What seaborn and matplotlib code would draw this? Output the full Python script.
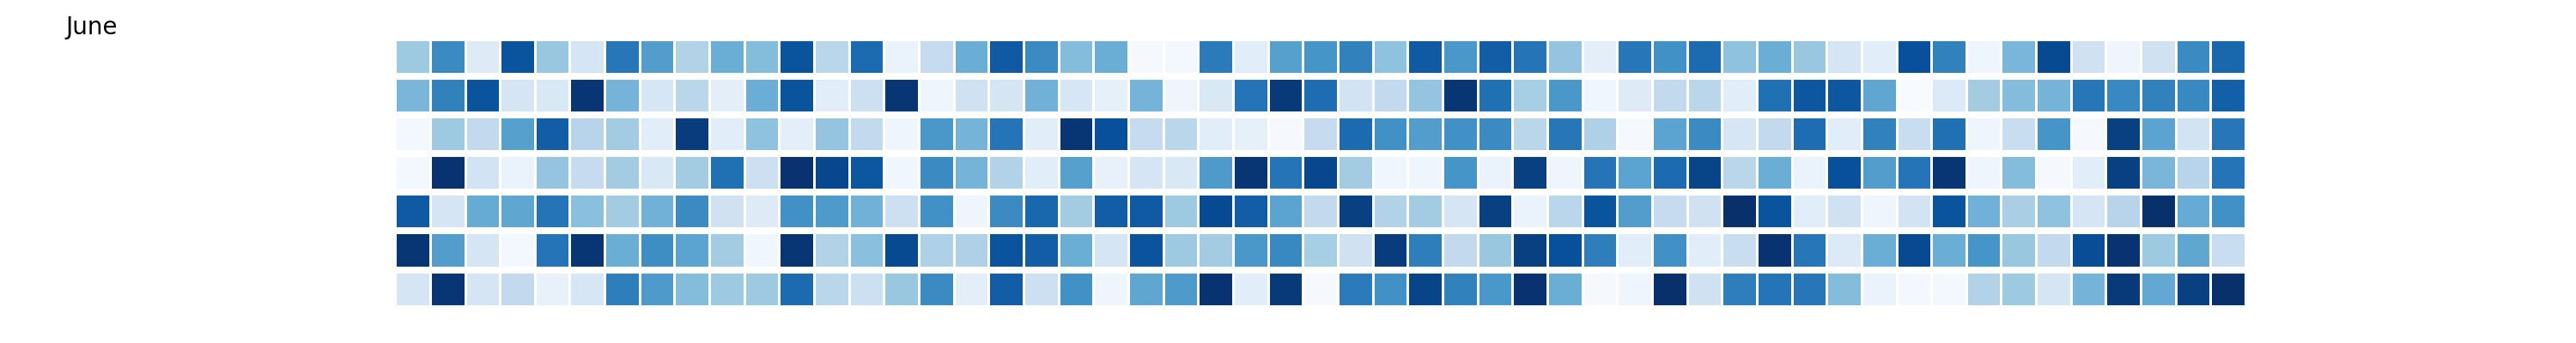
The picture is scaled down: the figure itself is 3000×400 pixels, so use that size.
import numpy as np
import seaborn as sns
import matplotlib.pyplot as plt

# one list per row of the grid, 53 cells each (0-8 scale)
row0 = [3, 5.2, 1, 6.9, 3.1, 1.4, 5.8, 4.6, 2.5, 4, 3.5, 6.9, 2.3,
        6.2, 0.5, 2, 4, 6.7, 5.2, 3.5, 4, 0.1, 0.2, 5.7, 0.9, 4.5, 4.9,
        5.5, 3.3, 6.7, 4.8, 6.6, 5.9, 3.2, 0.8, 5.8, 5, 6.2, 3.3, 4,
        3.1, 1.4, 0.9, 7, 5.5, 0.4, 3.7, 7.2, 1.6, 0.4, 1.6, 5.2, 6.3]
row1 = [3.7, 5.5, 6.9, 1.4, 1.2, 7.8, 3.8, 1.3, 2.3, 0.8, 4, 6.9, 0.9,
        1.7, 7.8, 0.4, 1.6, 1.4, 3.9, 1.3, 0.7, 3.8, 0.4, 1.2, 5.9, 7.7, 6.1,
        1.5, 2.1, 3.2, 7.8, 6, 2.8, 4.8, 0.3, 1, 2.1, 2.3, 0.9, 6,
        6.8, 6.8, 4.3, 0, 1.1, 2.9, 3.5, 3.8, 5.8, 5.3, 5.5, 5.3, 6.5]
row2 = [0.2, 3, 2.1, 4.5, 6.6, 2.4, 2.9, 0.9, 7.6, 0.9, 3.3, 0.8, 3.2,
        2.1, 0.4, 4.8, 3.8, 5.9, 0.9, 7.8, 7, 2, 2.3, 0.9, 0.7, 0.1, 2,
        6.2, 5, 4.6, 5, 5.2, 2.3, 5.8, 2.6, 0.1, 4.4, 5.2, 1.3, 2.1,
        6.1, 0.9, 5.5, 1.9, 6, 0.4, 1.9, 4.9, 0.1, 7.5, 4.4, 1.5, 5.8]
row3 = [0.2, 7.9, 1.5, 0.5, 3.2, 2, 2.9, 1.2, 2.9, 6, 1.7, 7.9, 7.3,
        6.8, 0.3, 5.2, 3.8, 2.5, 0.9, 4.5, 0.6, 1.4, 1.2, 4.7, 7.8, 5.9, 7.3,
        2.9, 0.3, 0.4, 4.9, 0.5, 7.5, 0.4, 5.9, 4.4, 6.2, 7.4, 2.3, 4,
        0.5, 7, 4.6, 5.9, 7.8, 0.4, 3.5, 0.1, 0.9, 7.5, 3.7, 2.4, 5.9]
row4 = [6.7, 1.4, 4.1, 4.3, 5.9, 3.4, 2.9, 3.9, 5.2, 1.6, 1, 5, 4.7,
        3.9, 1.7, 5, 0.4, 5.2, 6.3, 2.9, 6.6, 6.7, 3, 7.2, 6.6, 4.4, 2.1,
        7.5, 2.5, 2.9, 1.4, 7.5, 0.5, 2.3, 6.9, 4.6, 2, 1.6, 8, 6.9,
        0.9, 1.6, 0.4, 1.5, 6.9, 3.9, 2.7, 3.3, 1.4, 2.4, 8, 4.1, 5]
row5 = [7.8, 4.6, 1.4, 0.2, 5.9, 7.8, 4, 5.1, 4.4, 2.9, 0.3, 7.8, 2.5,
        3.4, 7.2, 2.6, 2.6, 6.9, 6.6, 4, 1.4, 6.9, 3, 2.9, 4.8, 5.3, 2.8,
        1.6, 7.6, 5.6, 2.1, 3.1, 7.5, 7, 5.6, 0.9, 5, 0.9, 1.9, 7.9,
        5.8, 1.1, 4, 7.2, 4, 4.9, 3.1, 2.1, 7.1, 7.9, 3, 4.3, 1.9]
row6 = [1.4, 7.8, 1.4, 2.1, 0.6, 1.3, 5.6, 4.7, 3.5, 3, 3, 6.2, 2.3,
        1.7, 3.1, 5.2, 0.8, 6.6, 1.7, 5, 0.4, 4.3, 4.7, 7.9, 0.9, 7.7, 0.1,
        5.7, 5, 7.4, 5.5, 4.8, 7.9, 4, 0.1, 0.4, 8, 1.6, 5.6, 5.9,
        5.8, 3.5, 0.5, 0.2, 0.2, 2.5, 3, 1.4, 3.8, 7.7, 4.2, 7.5, 8]

title = 'June'

data = np.array([row0, row1, row2, row3, row4, row5, row6])

fig = plt.figure(figsize=(30, 4), dpi=100)
ax = fig.add_axes([0.1534, 0.1008, 0.7183, 0.79])
sns.heatmap(data, cmap='Blues', vmin=0, vmax=8, cbar=False,
            linewidths=2, linecolor='white',
            xticklabels=False, yticklabels=False, ax=ax)
# wider white gaps between the rows
for y in range(data.shape[0] + 1):
    ax.axhline(y, color='white', linewidth=5.8)
ax.set_xlabel('')
ax.set_ylabel('')

fig.text(0.0255, 0.92, title, fontsize=20, va='center', ha='left')

plt.savefig('out.png', dpi=100)
